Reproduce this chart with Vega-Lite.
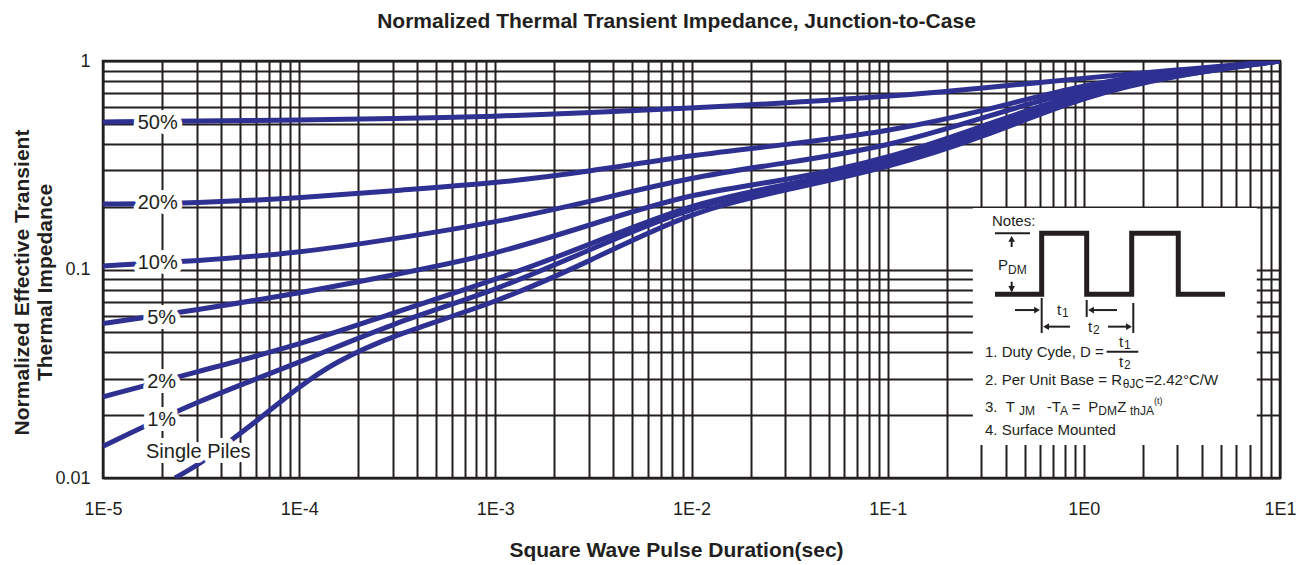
{
  "$schema": "https://vega.github.io/schema/vega-lite/v6.json",
  "width": 1177,
  "height": 417,
  "autosize": {"type": "none"},
  "padding": {"left": 103, "top": 61, "right": 27, "bottom": 87},
  "background": "white",
  "title": {
    "text": "Normalized Thermal Transient Impedance, Junction-to-Case",
    "fontSize": 21, "fontWeight": "bold", "font": "Liberation Sans", "color": "#231f20",
    "anchor": "middle", "frame": "group", "dx": -15, "offset": 20
  },
  "config": {
    "view": {"stroke": "#231f20", "strokeWidth": 2.5},
    "font": "Liberation Sans"
  },
  "datasets": {
    "curves": [
      {"d": "50%", "x": 0.00001, "y": 0.510}, {"d": "50%", "x": 0.00003, "y": 0.516}, {"d": "50%", "x": 0.0001, "y": 0.521},
      {"d": "50%", "x": 0.0003, "y": 0.530}, {"d": "50%", "x": 0.001, "y": 0.542}, {"d": "50%", "x": 0.003, "y": 0.566},
      {"d": "50%", "x": 0.01, "y": 0.595}, {"d": "50%", "x": 0.03, "y": 0.629}, {"d": "50%", "x": 0.1, "y": 0.674},
      {"d": "50%", "x": 0.3, "y": 0.740}, {"d": "50%", "x": 1, "y": 0.829}, {"d": "50%", "x": 3, "y": 0.905}, {"d": "50%", "x": 10, "y": 1.0},

      {"d": "20%", "x": 0.00001, "y": 0.206}, {"d": "20%", "x": 0.00003, "y": 0.208}, {"d": "20%", "x": 0.0001, "y": 0.220},
      {"d": "20%", "x": 0.0003, "y": 0.239}, {"d": "20%", "x": 0.001, "y": 0.259}, {"d": "20%", "x": 0.003, "y": 0.295},
      {"d": "20%", "x": 0.01, "y": 0.354}, {"d": "20%", "x": 0.03, "y": 0.396}, {"d": "20%", "x": 0.1, "y": 0.458},
      {"d": "20%", "x": 0.3, "y": 0.571}, {"d": "20%", "x": 1, "y": 0.776}, {"d": "20%", "x": 3, "y": 0.896}, {"d": "20%", "x": 10, "y": 1.0},

      {"d": "10%", "x": 0.00001, "y": 0.104}, {"d": "10%", "x": 0.00003, "y": 0.110}, {"d": "10%", "x": 0.0001, "y": 0.120},
      {"d": "10%", "x": 0.0003, "y": 0.140}, {"d": "10%", "x": 0.001, "y": 0.168}, {"d": "10%", "x": 0.003, "y": 0.211},
      {"d": "10%", "x": 0.01, "y": 0.278}, {"d": "10%", "x": 0.03, "y": 0.324}, {"d": "10%", "x": 0.1, "y": 0.388},
      {"d": "10%", "x": 0.3, "y": 0.531}, {"d": "10%", "x": 1, "y": 0.750}, {"d": "10%", "x": 3, "y": 0.886}, {"d": "10%", "x": 10, "y": 1.0},

      {"d": "5%", "x": 0.00001, "y": 0.055}, {"d": "5%", "x": 0.00003, "y": 0.064}, {"d": "5%", "x": 0.0001, "y": 0.077},
      {"d": "5%", "x": 0.0003, "y": 0.094}, {"d": "5%", "x": 0.001, "y": 0.118}, {"d": "5%", "x": 0.003, "y": 0.163},
      {"d": "5%", "x": 0.01, "y": 0.233}, {"d": "5%", "x": 0.03, "y": 0.266}, {"d": "5%", "x": 0.1, "y": 0.339},
      {"d": "5%", "x": 0.3, "y": 0.483}, {"d": "5%", "x": 1, "y": 0.726}, {"d": "5%", "x": 3, "y": 0.876}, {"d": "5%", "x": 10, "y": 1.0},

      {"d": "2%", "x": 0.00001, "y": 0.0245}, {"d": "2%", "x": 0.00003, "y": 0.0323}, {"d": "2%", "x": 0.0001, "y": 0.0434},
      {"d": "2%", "x": 0.0003, "y": 0.0619}, {"d": "2%", "x": 0.001, "y": 0.089}, {"d": "2%", "x": 0.003, "y": 0.131},
      {"d": "2%", "x": 0.01, "y": 0.208}, {"d": "2%", "x": 0.03, "y": 0.254}, {"d": "2%", "x": 0.1, "y": 0.324},
      {"d": "2%", "x": 0.3, "y": 0.462}, {"d": "2%", "x": 1, "y": 0.702}, {"d": "2%", "x": 3, "y": 0.866}, {"d": "2%", "x": 10, "y": 1.0},

      {"d": "1%", "x": 0.00001, "y": 0.0142}, {"d": "1%", "x": 0.00003, "y": 0.0234}, {"d": "1%", "x": 0.0001, "y": 0.0356},
      {"d": "1%", "x": 0.0003, "y": 0.0554}, {"d": "1%", "x": 0.001, "y": 0.079}, {"d": "1%", "x": 0.003, "y": 0.124},
      {"d": "1%", "x": 0.01, "y": 0.202}, {"d": "1%", "x": 0.03, "y": 0.249}, {"d": "1%", "x": 0.1, "y": 0.314},
      {"d": "1%", "x": 0.3, "y": 0.452}, {"d": "1%", "x": 1, "y": 0.695}, {"d": "1%", "x": 3, "y": 0.862}, {"d": "1%", "x": 10, "y": 1.0},

      {"d": "single", "x": 0.0000233, "y": 0.0100}, {"d": "single", "x": 0.0000312, "y": 0.01167}, {"d": "single", "x": 0.0000444, "y": 0.01505},
      {"d": "single", "x": 0.0000581, "y": 0.01816}, {"d": "single", "x": 0.000101, "y": 0.0276}, {"d": "single", "x": 0.000149, "y": 0.0356},
      {"d": "single", "x": 0.0003, "y": 0.0485}, {"d": "single", "x": 0.001, "y": 0.069}, {"d": "single", "x": 0.003, "y": 0.109},
      {"d": "single", "x": 0.01, "y": 0.191}, {"d": "single", "x": 0.03, "y": 0.2405}, {"d": "single", "x": 0.1, "y": 0.307},
      {"d": "single", "x": 0.3, "y": 0.427}, {"d": "single", "x": 1, "y": 0.680}, {"d": "single", "x": 3, "y": 0.857}, {"d": "single", "x": 10, "y": 1.0}
    ],
    "labels": [
      {"t": "50%", "x": 0.000019, "y": 0.505},
      {"t": "20%", "x": 0.000019, "y": 0.2077},
      {"t": "10%", "x": 0.000019, "y": 0.107},
      {"t": "5%", "x": 0.0000199, "y": 0.0583},
      {"t": "2%", "x": 0.0000199, "y": 0.029},
      {"t": "1%", "x": 0.0000199, "y": 0.019},
      {"t": "Single Piles", "x": 0.0000306, "y": 0.01337}
    ],
    "box": [{"x": 0.2718, "x2": 7.615, "y": 0.197, "y2": 0.0144}],
    "wave": [
      {"o": 0, "x": 0.3524, "y": 0.0760}, {"o": 1, "x": 0.6097, "y": 0.0760}, {"o": 2, "x": 0.6097, "y": 0.1492},
      {"o": 3, "x": 1.034, "y": 0.1492}, {"o": 4, "x": 1.034, "y": 0.0760}, {"o": 5, "x": 1.754, "y": 0.0760},
      {"o": 6, "x": 1.754, "y": 0.1492}, {"o": 7, "x": 3.030, "y": 0.1492}, {"o": 8, "x": 3.030, "y": 0.0760},
      {"o": 9, "x": 5.243, "y": 0.0760}
    ],
    "segs": [
      {"x": 0.3524, "x2": 0.5315, "y": 0.1492, "y2": 0.1492},
      {"x": 0.4287, "x2": 0.4287, "y": 0.1416, "y2": 0.1282},
      {"x": 0.4287, "x2": 0.4287, "y": 0.0874, "y2": 0.0786},
      {"x": 0.4457, "x2": 0.5705, "y": 0.0639, "y2": 0.0639},
      {"x": 0.6097, "x2": 0.6097, "y": 0.0730, "y2": 0.0496},
      {"x": 1.034, "x2": 1.034, "y": 0.0714, "y2": 0.0592},
      {"x": 1.088, "x2": 1.476, "y": 0.0639, "y2": 0.0639},
      {"x": 0.6421, "x2": 0.850, "y": 0.0532, "y2": 0.0532},
      {"x": 1.328, "x2": 1.699, "y": 0.0532, "y2": 0.0532},
      {"x": 1.787, "x2": 1.787, "y": 0.0691, "y2": 0.0496},
      {"x": 1.307, "x2": 1.895, "y": 0.0403, "y2": 0.0403}
    ],
    "heads": [
      {"x": 0.4287, "y": 0.1401, "dir": "u"},
      {"x": 0.4287, "y": 0.0806, "dir": "d"},
      {"x": 0.5773, "y": 0.0639, "dir": "r"},
      {"x": 1.088, "y": 0.0639, "dir": "l"},
      {"x": 0.6421, "y": 0.0532, "dir": "l"},
      {"x": 1.699, "y": 0.0532, "dir": "r"}
    ],
    "notes": [
      {"t": "Notes:", "x": 0.3402, "y": 0.1709},
      {"t": "P", "x": 0.365, "y": 0.1051},
      {"t": "t", "x": 0.7298, "y": 0.0639},
      {"t": "t", "x": 1.050, "y": 0.0532},
      {"t": "1. Duty Cyde, D =", "x": 0.3133, "y": 0.0402},
      {"t": "t", "x": 1.511, "y": 0.0450},
      {"t": "t", "x": 1.511, "y": 0.0361},
      {"t": "2. Per Unit Base = R", "x": 0.3133, "y": 0.0295},
      {"t": "=2.42°C/W", "x": 2.05, "y": 0.0295},
      {"t": "3.", "x": 0.3133, "y": 0.0219},
      {"t": "T", "x": 0.4000, "y": 0.0219},
      {"t": "-T", "x": 0.6467, "y": 0.0219},
      {"t": "=", "x": 0.8671, "y": 0.0219},
      {"t": "P", "x": 1.054, "y": 0.0219},
      {"t": "Z", "x": 1.48, "y": 0.0219},
      {"t": "4. Surface Mounted", "x": 0.3133, "y": 0.0170}
    ],
    "subs": [
      {"t": "DM", "x": 0.4106, "y": 0.0995},
      {"t": "1", "x": 0.7740, "y": 0.0619},
      {"t": "2", "x": 1.1135, "y": 0.0513},
      {"t": "1", "x": 1.602, "y": 0.0434},
      {"t": "2", "x": 1.602, "y": 0.0348},
      {"t": "θJC", "x": 1.578, "y": 0.02823},
      {"t": "JM", "x": 0.4671, "y": 0.02096},
      {"t": "A", "x": 0.7557, "y": 0.02096},
      {"t": "DM", "x": 1.185, "y": 0.02096},
      {"t": "thJA", "x": 1.72, "y": 0.02096}
    ],
    "sups": [
      {"t": "(t)", "x": 2.28, "y": 0.0234}
    ]
  },
  "encoding": {
    "x": {
      "field": "x", "type": "quantitative",
      "scale": {"type": "log", "domain": [0.00001, 10]},
      "axis": {
        "title": "Square Wave Pulse Duration(sec)",
        "values": [0.00001, 0.00002, 0.00003, 0.00004, 0.00005, 0.00006, 0.00007, 0.00008, 0.00009,
                   0.0001, 0.0002, 0.0003, 0.0004, 0.0005, 0.0006, 0.0007, 0.0008, 0.0009,
                   0.001, 0.002, 0.003, 0.004, 0.005, 0.006, 0.007, 0.008, 0.009,
                   0.01, 0.02, 0.03, 0.04, 0.05, 0.06, 0.07, 0.08, 0.09,
                   0.1, 0.2, 0.3, 0.4, 0.5, 0.6, 0.7, 0.8, 0.9,
                   1, 2, 3, 4, 5, 6, 7, 8, 9, 10],
        "labelExpr": "abs(log(datum.value)/LN10 - round(log(datum.value)/LN10)) < 0.001 ? '1E' + round(log(datum.value)/LN10) : ''",
        "grid": true, "gridColor": "#231f20", "gridWidth": 2, "gridOpacity": 1,
        "ticks": false, "domain": false,
        "labelFontSize": 18, "labelColor": "#231f20", "labelPadding": 22,
        "labelFlush": false, "labelOverlap": false, "labelBound": false,
        "titleFontSize": 21, "titleFontWeight": "bold", "titleColor": "#231f20",
        "titleX": 573, "titleY": 72, "titleBaseline": "middle", "titleAlign": "center"
      }
    },
    "y": {
      "field": "y", "type": "quantitative",
      "scale": {"type": "log", "domain": [0.01, 1]},
      "axis": {
        "title": ["Normalized Effective Transient", "Thermal Impedance"],
        "values": [0.01, 0.02, 0.03, 0.04, 0.05, 0.06, 0.07, 0.08, 0.09,
                   0.1, 0.2, 0.3, 0.4, 0.5, 0.6, 0.7, 0.8, 0.9, 1],
        "labelExpr": "datum.value > 0.99 ? '1' : (abs(datum.value - 0.1) < 0.001 ? '0.1' : (abs(datum.value - 0.01) < 0.0001 ? '0.01' : ''))",
        "grid": true, "gridColor": "#231f20", "gridWidth": 2, "gridOpacity": 1,
        "ticks": false, "domain": false,
        "labelFontSize": 18, "labelColor": "#231f20", "labelPadding": 13,
        "labelFlush": false, "labelOverlap": false, "labelBound": false,
        "titleFontSize": 21, "titleFontWeight": "bold", "titleColor": "#231f20",
        "titleX": -81, "titleY": 221, "titleBaseline": "middle", "titleAlign": "center",
        "titleLineHeight": 23
      }
    }
  },
  "layer": [
    {
      "data": {"name": "curves"},
      "mark": {"type": "line", "interpolate": "basis", "strokeWidth": 5, "color": "#2e3092", "clip": true},
      "encoding": {"detail": {"field": "d", "type": "nominal"}}
    },
    {
      "data": {"name": "box"},
      "mark": {"type": "rect", "fill": "white"},
      "encoding": {"x2": {"field": "x2"}, "y2": {"field": "y2"}}
    },
    {
      "data": {"name": "wave"},
      "mark": {"type": "line", "color": "#231f20", "strokeWidth": 5, "strokeJoin": "miter", "strokeCap": "butt"},
      "encoding": {"order": {"field": "o", "type": "quantitative"}}
    },
    {
      "data": {"name": "segs"},
      "mark": {"type": "rule", "color": "#231f20", "strokeWidth": 2},
      "encoding": {"x2": {"field": "x2"}, "y2": {"field": "y2"}}
    },
    {
      "data": {"name": "heads"},
      "mark": {"type": "point", "filled": true, "color": "#231f20", "size": 45, "opacity": 1},
      "encoding": {
        "shape": {
          "field": "dir", "type": "nominal", "legend": null,
          "scale": {"domain": ["r", "l", "u", "d"], "range": ["triangle-right", "triangle-left", "triangle-up", "triangle-down"]}
        }
      }
    },
    {
      "data": {"name": "labels"},
      "mark": {"type": "text", "fontSize": 20, "fill": "white", "stroke": "white", "strokeWidth": 10, "strokeJoin": "round"},
      "encoding": {"text": {"field": "t"}}
    },
    {
      "data": {"name": "labels"},
      "mark": {"type": "text", "fontSize": 20, "fill": "#231f20"},
      "encoding": {"text": {"field": "t"}}
    },
    {
      "data": {"name": "notes"},
      "mark": {"type": "text", "fontSize": 15, "align": "left", "fill": "#231f20"},
      "encoding": {"text": {"field": "t"}}
    },
    {
      "data": {"name": "subs"},
      "mark": {"type": "text", "fontSize": 12, "align": "left", "fill": "#231f20"},
      "encoding": {"text": {"field": "t"}}
    },
    {
      "data": {"name": "sups"},
      "mark": {"type": "text", "fontSize": 9, "align": "left", "fill": "#231f20"},
      "encoding": {"text": {"field": "t"}}
    }
  ]
}
